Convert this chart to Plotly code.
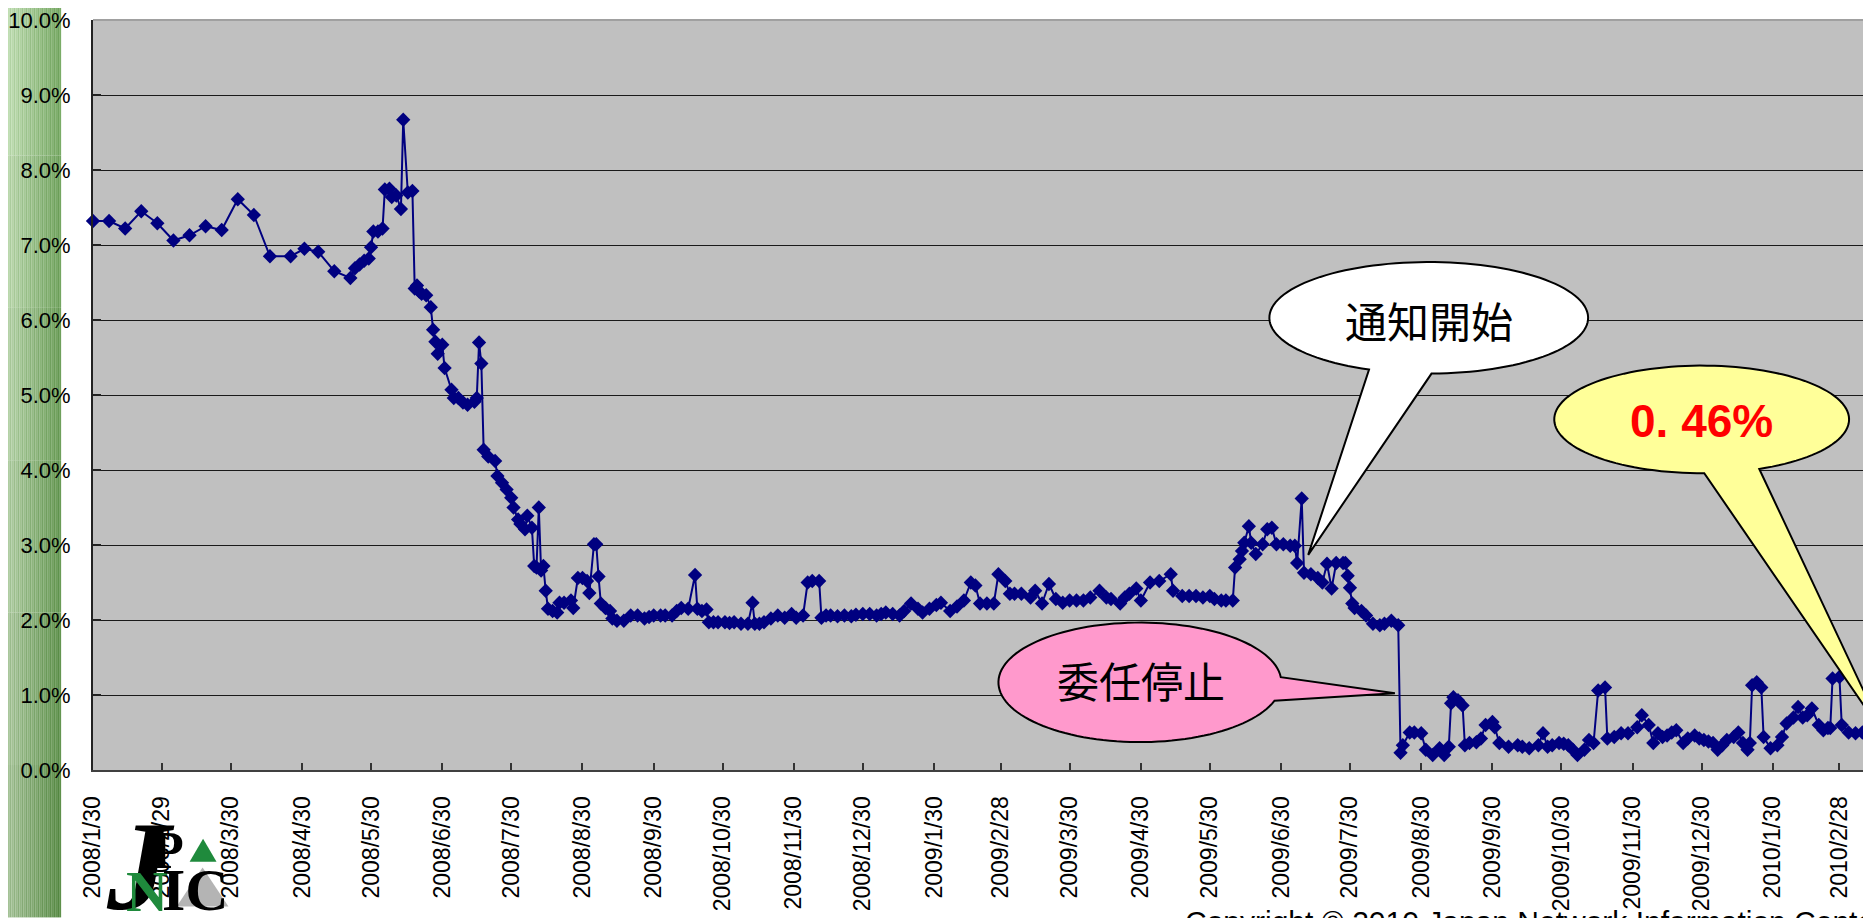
import math
import pandas as pd
import plotly.graph_objects as go

# ---------------- data ----------------
dates = [
    "2008-01-30", "2008-02-06", "2008-02-13", "2008-02-20", "2008-02-27", "2008-03-05", "2008-03-12",
    "2008-03-19", "2008-03-26", "2008-04-02", "2008-04-09", "2008-04-16", "2008-04-25", "2008-05-01",
    "2008-05-07", "2008-05-14", "2008-05-21", "2008-05-23", "2008-05-25", "2008-05-27", "2008-05-29",
    "2008-05-30", "2008-05-31", "2008-06-02", "2008-06-04", "2008-06-05", "2008-06-07", "2008-06-08",
    "2008-06-10", "2008-06-12", "2008-06-13", "2008-06-15", "2008-06-17", "2008-06-18", "2008-06-19",
    "2008-06-20", "2008-06-21", "2008-06-23", "2008-06-25", "2008-06-26", "2008-06-27", "2008-06-28",
    "2008-06-30", "2008-07-01", "2008-07-04", "2008-07-05", "2008-07-07", "2008-07-09", "2008-07-11",
    "2008-07-14", "2008-07-15", "2008-07-16", "2008-07-17", "2008-07-18", "2008-07-20", "2008-07-23",
    "2008-07-24", "2008-07-26", "2008-07-28", "2008-07-30", "2008-07-31", "2008-08-02", "2008-08-03",
    "2008-08-05", "2008-08-06", "2008-08-08", "2008-08-09", "2008-08-10", "2008-08-11", "2008-08-12",
    "2008-08-13", "2008-08-14", "2008-08-15", "2008-08-17", "2008-08-19", "2008-08-20", "2008-08-22",
    "2008-08-25", "2008-08-26", "2008-08-28", "2008-08-30", "2008-09-01", "2008-09-02", "2008-09-04",
    "2008-09-05", "2008-09-06", "2008-09-07", "2008-09-09", "2008-09-11", "2008-09-12", "2008-09-14",
    "2008-09-17", "2008-09-20", "2008-09-23", "2008-09-26", "2008-09-28", "2008-09-30", "2008-10-03",
    "2008-10-05", "2008-10-08", "2008-10-10", "2008-10-12", "2008-10-15", "2008-10-18", "2008-10-19",
    "2008-10-21", "2008-10-23", "2008-10-24", "2008-10-26", "2008-10-28", "2008-10-31", "2008-11-02",
    "2008-11-04", "2008-11-07", "2008-11-10", "2008-11-12", "2008-11-13", "2008-11-15", "2008-11-17",
    "2008-11-20", "2008-11-23", "2008-11-26", "2008-11-29", "2008-12-01", "2008-12-04", "2008-12-06",
    "2008-12-08", "2008-12-11", "2008-12-12", "2008-12-14", "2008-12-16", "2008-12-19", "2008-12-22",
    "2008-12-25", "2008-12-27", "2008-12-30", "2009-01-02", "2009-01-05", "2009-01-07", "2009-01-09",
    "2009-01-12", "2009-01-15", "2009-01-17", "2009-01-20", "2009-01-23", "2009-01-25", "2009-01-28",
    "2009-01-31", "2009-02-02", "2009-02-06", "2009-02-09", "2009-02-12", "2009-02-15", "2009-02-17",
    "2009-02-19", "2009-02-22", "2009-02-25", "2009-02-27", "2009-03-02", "2009-03-04", "2009-03-06",
    "2009-03-09", "2009-03-13", "2009-03-15", "2009-03-18", "2009-03-21", "2009-03-24", "2009-03-27",
    "2009-03-30", "2009-04-02", "2009-04-05", "2009-04-08", "2009-04-12", "2009-04-15", "2009-04-17",
    "2009-04-21", "2009-04-23", "2009-04-25", "2009-04-28", "2009-04-30", "2009-05-04", "2009-05-08",
    "2009-05-13", "2009-05-14", "2009-05-18", "2009-05-21", "2009-05-24", "2009-05-27", "2009-05-30",
    "2009-06-01", "2009-06-04", "2009-06-06", "2009-06-09", "2009-06-10", "2009-06-12", "2009-06-13",
    "2009-06-14", "2009-06-16", "2009-06-17", "2009-06-19", "2009-06-22", "2009-06-24", "2009-06-26",
    "2009-06-28", "2009-07-01", "2009-07-04", "2009-07-06", "2009-07-07", "2009-07-09", "2009-07-10",
    "2009-07-13", "2009-07-16", "2009-07-18", "2009-07-20", "2009-07-22", "2009-07-24", "2009-07-27",
    "2009-07-28", "2009-07-29", "2009-07-30", "2009-07-31", "2009-08-01", "2009-08-04", "2009-08-06",
    "2009-08-09", "2009-08-12", "2009-08-14", "2009-08-17", "2009-08-20", "2009-08-21", "2009-08-22",
    "2009-08-25", "2009-08-27", "2009-08-30", "2009-09-01", "2009-09-04", "2009-09-07", "2009-09-09",
    "2009-09-11", "2009-09-12", "2009-09-13", "2009-09-15", "2009-09-17", "2009-09-18", "2009-09-20",
    "2009-09-23", "2009-09-25", "2009-09-27", "2009-09-30", "2009-10-01", "2009-10-03", "2009-10-07",
    "2009-10-11", "2009-10-13", "2009-10-16", "2009-10-20", "2009-10-22", "2009-10-24", "2009-10-26",
    "2009-10-29", "2009-10-31", "2009-11-02", "2009-11-04", "2009-11-06", "2009-11-09", "2009-11-11",
    "2009-11-13", "2009-11-15", "2009-11-18", "2009-11-19", "2009-11-22", "2009-11-25", "2009-11-28",
    "2009-12-02", "2009-12-04", "2009-12-07", "2009-12-09", "2009-12-11", "2009-12-13", "2009-12-15",
    "2009-12-17", "2009-12-19", "2009-12-22", "2009-12-24", "2009-12-27", "2009-12-29", "2009-12-31",
    "2010-01-02", "2010-01-04", "2010-01-06", "2010-01-08", "2010-01-10", "2010-01-13", "2010-01-15",
    "2010-01-17", "2010-01-19", "2010-01-20", "2010-01-21", "2010-01-23", "2010-01-25", "2010-01-26",
    "2010-01-29", "2010-02-01", "2010-02-03", "2010-02-05", "2010-02-08", "2010-02-10", "2010-02-12",
    "2010-02-14", "2010-02-16", "2010-02-19", "2010-02-21", "2010-02-23", "2010-02-24", "2010-02-25",
    "2010-02-28", "2010-03-01", "2010-03-04", "2010-03-07", "2010-03-10", "2010-03-13",
]

rates = [
    7.32, 7.32, 7.22, 7.45, 7.29, 7.06, 7.13,
    7.25, 7.20, 7.61, 7.40, 6.85, 6.85, 6.95,
    6.91, 6.65, 6.56, 6.69, 6.74, 6.79, 6.82,
    6.97, 7.18, 7.18, 7.22, 7.74, 7.75, 7.64,
    7.66, 7.48, 8.67, 7.70, 7.72, 6.42, 6.46,
    6.38, 6.35, 6.33, 6.17, 5.87, 5.71, 5.55,
    5.67, 5.36, 5.07, 4.96, 4.96, 4.90, 4.87,
    4.91, 4.96, 5.70, 5.42, 4.27, 4.18, 4.12,
    3.92, 3.83, 3.74, 3.63, 3.50, 3.34, 3.28,
    3.21, 3.39, 3.23, 2.72, 2.70, 3.50, 2.66,
    2.72, 2.39, 2.15, 2.12, 2.10, 2.23, 2.23,
    2.26, 2.16, 2.56, 2.56, 2.52, 2.36, 3.01,
    3.01, 2.58, 2.22, 2.16, 2.12, 2.02, 1.99,
    1.99, 2.06, 2.06, 2.02, 2.04, 2.06, 2.06,
    2.06, 2.06, 2.12, 2.16, 2.15, 2.60, 2.15,
    2.12, 2.14, 1.97, 1.97, 1.97, 1.97, 1.96,
    1.97, 1.95, 1.95, 2.23, 1.95, 1.95, 1.97,
    2.02, 2.06, 2.03, 2.08, 2.03, 2.06, 2.50,
    2.52, 2.52, 2.03, 2.06, 2.06, 2.05, 2.06,
    2.05, 2.07, 2.08, 2.08, 2.06, 2.08, 2.10,
    2.08, 2.06, 2.12, 2.22, 2.15, 2.10, 2.15,
    2.20, 2.23, 2.12, 2.18, 2.26, 2.50, 2.46,
    2.22, 2.22, 2.22, 2.61, 2.52, 2.35, 2.35,
    2.35, 2.30, 2.39, 2.22, 2.48, 2.28, 2.23,
    2.26, 2.26, 2.26, 2.30, 2.39, 2.30, 2.28,
    2.22, 2.30, 2.35, 2.42, 2.26, 2.50, 2.52,
    2.61, 2.39, 2.32, 2.32, 2.32, 2.30, 2.32,
    2.28, 2.26, 2.26, 2.26, 2.70, 2.81, 2.92,
    3.03, 3.25, 3.03, 2.88, 3.01, 3.21, 3.23,
    3.01, 3.01, 2.99, 2.99, 2.76, 3.62, 2.63,
    2.61, 2.56, 2.50, 2.75, 2.42, 2.76, 2.76,
    2.76, 2.59, 2.43, 2.22, 2.16, 2.12, 2.06,
    1.95, 1.93, 1.95, 1.99, 1.93, 0.23, 0.33,
    0.50, 0.50, 0.49, 0.27, 0.20, 0.29, 0.20,
    0.31, 0.89, 0.97, 0.93, 0.86, 0.33, 0.36,
    0.37, 0.42, 0.60, 0.64, 0.57, 0.36, 0.31,
    0.33, 0.31, 0.29, 0.33, 0.49, 0.31, 0.33,
    0.36, 0.35, 0.33, 0.27, 0.20, 0.27, 0.40,
    0.36, 1.06, 1.10, 0.42, 0.44, 0.49, 0.49,
    0.57, 0.73, 0.60, 0.36, 0.49, 0.44, 0.46,
    0.50, 0.53, 0.36, 0.42, 0.46, 0.42, 0.40,
    0.38, 0.36, 0.27, 0.33, 0.40, 0.44, 0.50,
    0.36, 0.27, 0.36, 1.13, 1.17, 1.10, 0.44,
    0.29, 0.33, 0.44, 0.62, 0.70, 0.84, 0.70,
    0.73, 0.82, 0.60, 0.53, 0.56, 0.56, 1.22,
    1.24, 0.60, 0.50, 0.49, 0.50, 0.46,
]

tick_labels = [
    "2008/1/30", "2008/2/29", "2008/3/30", "2008/4/30", "2008/5/30", "2008/6/30",
    "2008/7/30", "2008/8/30", "2008/9/30", "2008/10/30", "2008/11/30", "2008/12/30",
    "2009/1/30", "2009/2/28", "2009/3/30", "2009/4/30", "2009/5/30", "2009/6/30",
    "2009/7/30", "2009/8/30", "2009/9/30", "2009/10/30", "2009/11/30", "2009/12/30",
    "2010/1/30", "2010/2/28",
]
y_ticks = [0, 1, 2, 3, 4, 5, 6, 7, 8, 9, 10]
y_tick_labels = ["0.0%", "1.0%", "2.0%", "3.0%", "4.0%", "5.0%", "6.0%", "7.0%", "8.0%", "9.0%", "10.0%"]

callout_notice = "通知開始"
callout_stop = "委任停止"
callout_latest = "0. 46%"
copyright_text = "Copyright © 2010 Japan Network Information Center"

# ---------------- geometry (page pixels) ----------------
PAGE_W, PAGE_H = 1871, 918
OFF = 8                      # default body margin of the html page
PLOT_L, PLOT_T, PLOT_B = 86, 17, 770   # plot area in page pixels
W, H = PAGE_W - OFF, PAGE_H - OFF
ML, MT, MR = PLOT_L - OFF, PLOT_T - OFF, 0
MB = H - (PLOT_B - OFF)
PW = W - ML - MR
PH = H - MT - MB


def px(x):
    return (x - PLOT_L) / PW


def py(y):
    return (PLOT_B - y) / PH


def callout_path(cx, cy, rx, ry, t_start, t_end, tip, n=120):
    pts = []
    span = 360 - (t_end - t_start)
    for i in range(n + 1):
        t = math.radians(t_end + span * i / n)
        pts.append((cx + rx * math.cos(t), cy + ry * math.sin(t)))
    pts.append(tip)
    return "M " + " L ".join(f"{px(x):.5f},{py(y):.5f}" for x, y in pts) + " Z"


tick_vals = pd.to_datetime(tick_labels, format="%Y/%m/%d")
x_start = pd.Timestamp("2008-01-30")
x_end = x_start + pd.Timedelta(days=(PAGE_W - PLOT_L) / 2.307)

fig = go.Figure()
fig.add_trace(go.Scatter(
    x=pd.to_datetime(dates), y=rates, mode="lines+markers",
    line=dict(color="#000080", width=2),
    marker=dict(symbol="diamond", size=11, color="#000080", line=dict(width=0)),
    cliponaxis=False, showlegend=False, hoverinfo="skip",
))

shapes = []
# green stripe band on the left
for i in range(27):
    x0, x1 = 2 * i, 2 * i + 2
    f = i / 26.0
    for j in range(6):
        g = j / 5.0
        r = int(192 - 70 * f - 28 * g - (12 if i % 2 else 0))
        gg = int(222 - 50 * f - 28 * g - (10 if i % 2 else 0))
        b = int(178 - 75 * f - 28 * g - (12 if i % 2 else 0))
        shapes.append(dict(type="rect", xref="paper", yref="paper",
                           x0=px(x0), x1=px(x1),
                           y0=py(PAGE_H * (j + 1) / 6), y1=py(PAGE_H * j / 6),
                           fillcolor=f"rgb({r},{gg},{b})", line=dict(width=0), layer="below"))
# top border of plot
shapes.append(dict(type="line", xref="paper", yref="paper", x0=0, x1=1, y0=1, y1=1,
                   line=dict(color="#a0a0a0", width=2), layer="above"))
# callouts
shapes.append(dict(type="path", xref="paper", yref="paper",
                   path=callout_path(1427, 316, 160, 56, 89, 112, (1306, 554)),
                   fillcolor="#FFFFFF", line=dict(color="#000000", width=2), layer="above"))
shapes.append(dict(type="path", xref="paper", yref="paper",
                   path=callout_path(1137, 682, 142, 60, -5, 18, (1393, 693)),
                   fillcolor="#FF99CC", line=dict(color="#000000", width=2), layer="above"))
shapes.append(dict(type="path", xref="paper", yref="paper",
                   path=callout_path(1701, 418, 148, 54, 67, 89, (1885, 736)),
                   fillcolor="#FFFF99", line=dict(color="#000000", width=2), layer="above"))
# logo triangles
shapes.append(dict(type="path", xref="paper", yref="paper",
                   path=f"M {px(170)},{py(907)} L {px(222)},{py(907)} L {px(196)},{py(868)} Z",
                   fillcolor="#b4b4b4", line=dict(width=0), layer="above"))
shapes.append(dict(type="path", xref="paper", yref="paper",
                   path=f"M {px(183)},{py(862)} L {px(210)},{py(862)} L {px(196.5)},{py(839)} Z",
                   fillcolor="#1f8a3c", line=dict(width=0), layer="above"))


def ann(text, x, y, size, family, color="#000000", xa="center", ya="middle"):
    return dict(text=text, x=px(x), y=py(y), xref="paper", yref="paper", showarrow=False,
                xanchor=xa, yanchor=ya, font=dict(family=family, size=size, color=color))


annotations = [
    ann(callout_notice, 1427, 318, 42, "Noto Sans CJK JP"),
    ann(callout_stop, 1138, 679, 42, "Noto Sans CJK JP"),
    ann("<b>" + callout_latest + "</b>", 1701, 420, 46, "Liberation Sans", color="#FF0000"),
    ann(copyright_text, 1180, 904, 30, "Liberation Sans", xa="left", ya="top"),
    # JPNIC logo letters
    ann("<b><i>J</i></b>", 134, 866, 128, "Liberation Serif"),
    ann("<b>P</b>", 161, 851, 52, "Liberation Serif"),
    ann("<b>N</b>", 140, 892, 58, "Liberation Serif", color="#1f8a3c"),
    ann("<b>IC</b>", 189, 890, 60, "Liberation Serif"),
]

fig.update_layout(
    width=W, height=H,
    margin=dict(l=ML, r=MR, t=MT, b=MB, pad=0),
    paper_bgcolor="#FFFFFF", plot_bgcolor="#C0C0C0",
    shapes=shapes, annotations=annotations,
    showlegend=False,
    xaxis=dict(
        type="date", range=[x_start, x_end],
        tickvals=tick_vals, ticktext=tick_labels, tickangle=-90,
        ticks="inside", ticklen=7, tickwidth=1.5, tickcolor="#333333",
        showgrid=False, zeroline=False,
        showline=True, linecolor="#404040", linewidth=2,
        ticklabelstandoff=15,
        tickfont=dict(family="Liberation Sans", size=23, color="#000000"),
    ),
    yaxis=dict(
        range=[0, 10], tickvals=y_ticks, ticktext=y_tick_labels,
        ticks="inside", ticklen=8, tickwidth=1.5, tickcolor="#222222",
        showgrid=True, gridcolor="#1a1a1a", gridwidth=1,
        zeroline=False, showline=True, linecolor="#222222", linewidth=2,
        ticklabelstandoff=16, ticklabeloverflow="allow",
        tickfont=dict(family="Liberation Sans", size=22, color="#000000"),
    ),
)

fig.write_html("out.html")
